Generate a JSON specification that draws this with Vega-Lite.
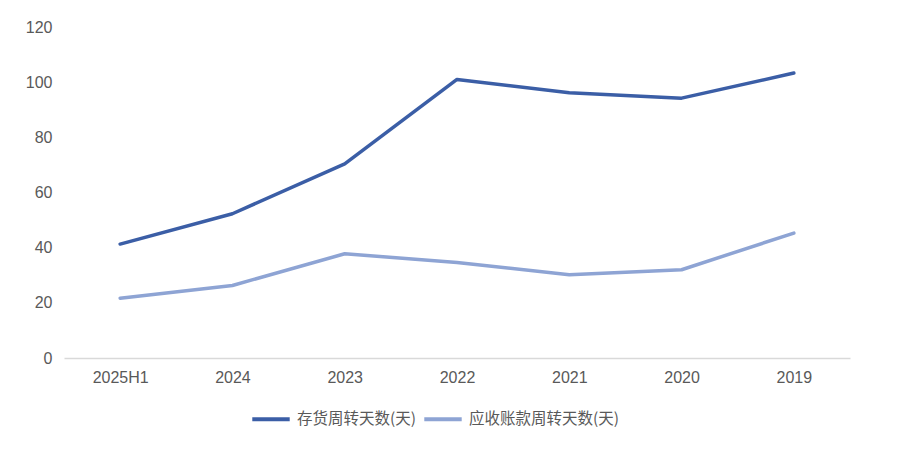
{
  "$schema": "https://vega.github.io/schema/vega-lite/v6.json",
  "autosize": "none",
  "padding": {"left": 64, "top": 27, "right": 58, "bottom": 95},
  "width": 786,
  "height": 331,
  "background": "white",
  "data": {
    "values": [
      {"period": "2025H1", "series": "存货周转天数(天)", "days": 41.3},
      {"period": "2024", "series": "存货周转天数(天)", "days": 52.3},
      {"period": "2023", "series": "存货周转天数(天)", "days": 70.4},
      {"period": "2022", "series": "存货周转天数(天)", "days": 101.0},
      {"period": "2021", "series": "存货周转天数(天)", "days": 96.2},
      {"period": "2020", "series": "存货周转天数(天)", "days": 94.2},
      {"period": "2019", "series": "存货周转天数(天)", "days": 103.3},
      {"period": "2025H1", "series": "应收账款周转天数(天)", "days": 21.7},
      {"period": "2024", "series": "应收账款周转天数(天)", "days": 26.3},
      {"period": "2023", "series": "应收账款周转天数(天)", "days": 37.8},
      {"period": "2022", "series": "应收账款周转天数(天)", "days": 34.6},
      {"period": "2021", "series": "应收账款周转天数(天)", "days": 30.2},
      {"period": "2020", "series": "应收账款周转天数(天)", "days": 32.0},
      {"period": "2019", "series": "应收账款周转天数(天)", "days": 45.3}
    ]
  },
  "mark": {"type": "line", "strokeWidth": 3.5, "strokeCap": "round", "strokeJoin": "round"},
  "encoding": {
    "x": {
      "field": "period",
      "type": "ordinal",
      "sort": ["2025H1", "2024", "2023", "2022", "2021", "2020", "2019"],
      "scale": {"type": "point", "padding": 0.5},
      "axis": {
        "title": null,
        "labelAngle": 0,
        "ticks": false,
        "domainColor": "#d9d9d9",
        "domainWidth": 1.5,
        "labelPadding": 11
      }
    },
    "y": {
      "field": "days",
      "type": "quantitative",
      "scale": {"domain": [0, 120]},
      "axis": {
        "title": null,
        "values": [0, 20, 40, 60, 80, 100, 120],
        "grid": false,
        "domain": false,
        "ticks": false,
        "labelPadding": 12
      }
    },
    "color": {
      "field": "series",
      "type": "nominal",
      "sort": ["存货周转天数(天)", "应收账款周转天数(天)"],
      "scale": {"range": ["#3b5ea6", "#8ea4d4"]},
      "legend": {
        "title": null,
        "orient": "none",
        "legendX": 186,
        "legendY": 371,
        "direction": "horizontal",
        "symbolType": "stroke",
        "symbolSize": 1400,
        "symbolStrokeWidth": 4,
        "labelFont": "Noto Sans CJK SC",
        "labelFontSize": 15.5,
        "labelColor": "#595959",
        "labelOffset": 5,
        "columnPadding": 0
      }
    }
  },
  "config": {
    "view": {"stroke": null},
    "axis": {
      "labelFont": "Liberation Sans",
      "labelFontSize": 16,
      "labelColor": "#595959"
    }
  }
}
